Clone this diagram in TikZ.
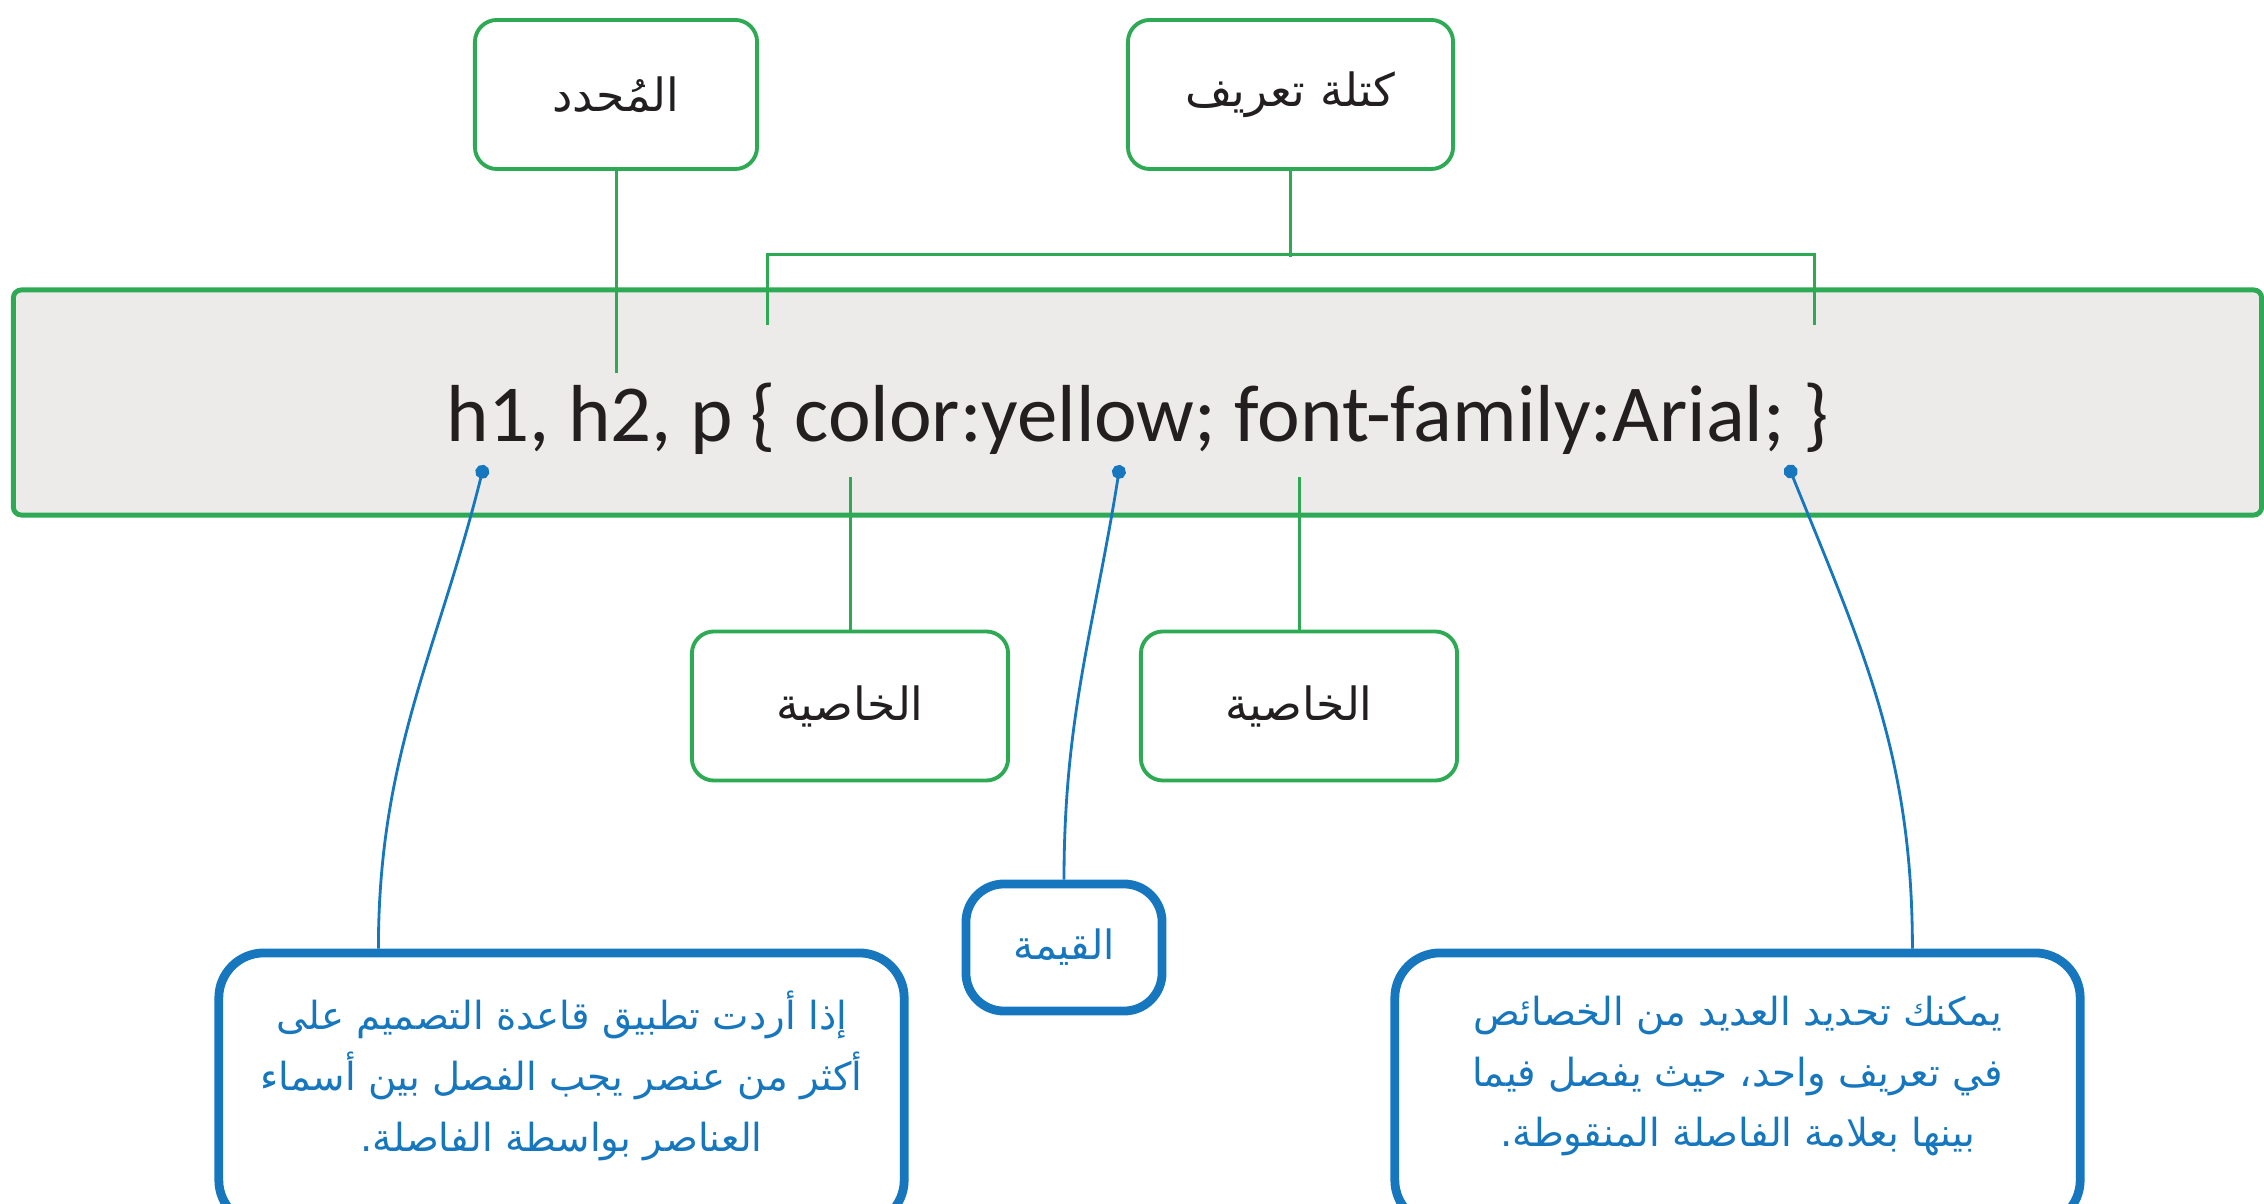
\documentclass[tikz,border=0pt]{standalone}
\usepackage{fontspec}
\setmainfont{Carlito}
\newfontfamily\arabicfont[Script=Arabic]{DejaVu Sans}
\TeXXeTstate=1
\usetikzlibrary{positioning,arrows.meta,calc}
\definecolor{tagGreen}{HTML}{2EAA55}
\definecolor{noteBlue}{HTML}{1677BE}
\definecolor{codeGray}{HTML}{EDEBEA}
\definecolor{inkDark}{HTML}{231F20}
\tikzset{
  termline/.style={draw=tagGreen, line width=0.85pt},
  noteline/.style={{Circle[length=4pt]}-, draw=noteBlue, line width=0.8pt},
  codebox/.style={draw=tagGreen, line width=1.4pt, rounded corners=0.8mm, fill=codeGray, minimum width=22.47cm, minimum height=2.25cm, text height=22pt, text depth=0pt, text=inkDark, font=\fontsize{23}{28}\selectfont},
  termbox/.style={draw=tagGreen, line width=1.1pt, rounded corners=2.2mm, fill=white, minimum height=1.49cm, text=inkDark, font=\arabicfont\fontsize{13}{16}\selectfont},
  valuebox/.style={draw=noteBlue, line width=2.5pt, rounded corners=3.8mm, fill=white, minimum width=1.96cm, minimum height=1.27cm, text=noteBlue, font=\arabicfont\fontsize{11.5}{14}\selectfont},
  notebox/.style={draw=noteBlue, line width=2.5pt, rounded corners=4.5mm, fill=white, minimum width=6.85cm, minimum height=2.72cm, align=center, text depth=10pt, text=noteBlue, font=\arabicfont\fontsize{11}{17.3}\selectfont}
}

\begin{document}
\begin{tikzpicture}[x=0.01cm, y=-0.01cm]
  \useasboundingbox (0,0) rectangle (2264,1204);
  \clip (0,0) rectangle (2264,1204);

  % code line
  \node[codebox] (code) at (1137.5,402.5) {h1, h2, p \{ color:yellow; font-family:Arial; \}};

  % green labels
  \node[termbox, minimum width=2.82cm] (selBox) at (616,94.5) {\beginR المُحدد\endR};
  \node[termbox, minimum width=3.25cm] (blockBox) at (1290.5,94.5) {\beginR كتلة تعريف\endR};
  \node[termbox, minimum width=3.16cm] (propOne) at (850,706) {\beginR الخاصية\endR};
  \node[termbox, minimum width=3.16cm] (propTwo) at (1299,706) {\beginR الخاصية\endR};

  \coordinate (selEnd) at (616,373);
  \coordinate (blockL) at (767,325);
  \coordinate (blockR) at (1814,325);
  \coordinate (propOneEnd) at (850,477);
  \coordinate (propTwoEnd) at (1299,477);

  \draw[termline] (selBox.south) -- (selEnd);
  \draw[termline] (blockBox.south) -- ++(0,86);
  \draw[termline] (blockL) -- ++(0,-70) -| (blockR);
  \draw[termline] (propOne.north) -- (propOneEnd);
  \draw[termline] (propTwo.north) -- (propTwoEnd);

  % blue notes
  \node[valuebox] (value) at (1064,947.5) {\beginR القيمة\endR};
  \node[notebox] (selNote) at (561.5,1089) {\beginR إذا أردت تطبيق قاعدة التصميم على\endR\\
    \beginR أكثر من عنصر يجب الفصل بين أسماء\endR\\
    \beginR العناصر بواسطة الفاصلة.\endR};
  \node[notebox] (propNote) at (1737.5,1089) {\beginR يمكنك تحديد العديد من الخصائص\endR\\
    \beginR في تعريف واحد، حيث يفصل فيما\endR\\
    \beginR بينها بعلامة الفاصلة المنقوطة.\endR};

  \coordinate (selDot) at (484,465);
  \coordinate (valueDot) at (1120,465);
  \coordinate (propDot) at (1788,465);

  \draw[noteline] (selDot) to[out=-104, in=90] ($(selNote.north west)+(164,0)$);
  \draw[noteline] (valueDot) to[out=-99, in=90] (value.north);
  \draw[noteline] (propDot) to[out=-68, in=90] ($(propNote.north west)+(522,0)$);
\end{tikzpicture}
\end{document}
